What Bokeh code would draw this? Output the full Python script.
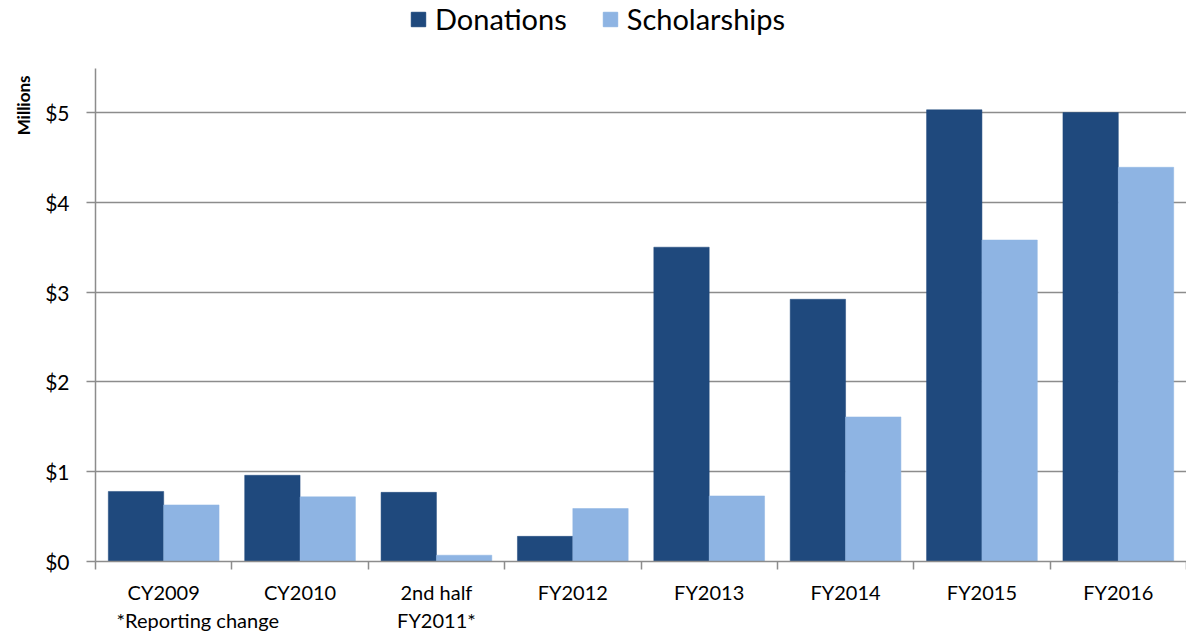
from bokeh.plotting import figure
from bokeh.models import Range1d, FixedTicker, Legend, LegendItem, Title
from bokeh.layouts import column
from bokeh.embed import file_html
from bokeh.resources import INLINE

categories = ["CY2009", "CY2010", "2nd half\nFY2011*", "FY2012", "FY2013", "FY2014", "FY2015", "FY2016"]
donations = [0.78, 0.96, 0.77, 0.28, 3.50, 2.92, 5.03, 5.00]
scholarships = [0.63, 0.72, 0.07, 0.59, 0.73, 1.61, 3.58, 4.39]
y_ticks = [0, 1, 2, 3, 4, 5]
y_labels = ["$0", "$1", "$2", "$3", "$4", "$5"]
note_text = "\n*Reporting change"
note_pos = 0.75

FONT = "Lato"
DARK = "#1F497D"
LIGHT = "#8EB4E3"
GRID = "#8C8C8C"

n = len(categories)
p = figure(width=1186, height=569, output_backend="svg", toolbar_location=None,
           x_range=Range1d(0, 8), y_range=Range1d(0, 5.49),
           min_border_left=95, min_border_right=0, min_border_bottom=76, min_border_top=0)
p.outline_line_color = None
p.background_fill_color = "white"

centers = [i + 0.5 for i in range(n)]
bw = 0.406
r1 = p.vbar(x=[c - bw / 2 for c in centers], top=donations, width=bw, bottom=0,
            fill_color=DARK, line_color=DARK, line_width=0.5)
r2 = p.vbar(x=[c + bw / 2 for c in centers], top=scholarships, width=bw, bottom=0,
            fill_color=LIGHT, line_color=LIGHT, line_width=0.5)

# x axis
xa = p.xaxis[0]
xa.ticker = FixedTicker(ticks=centers + [note_pos], minor_ticks=list(range(n + 1)))
overrides = {c: lab for c, lab in zip(centers, categories)}
overrides[note_pos] = note_text
xa.major_label_overrides = overrides
xa.major_tick_line_color = None
xa.minor_tick_line_color = GRID
xa.minor_tick_line_width = 1.5
xa.minor_tick_out = 8
xa.minor_tick_in = 0
xa.axis_line_color = GRID
xa.axis_line_width = 1.5
xa.major_label_text_font = FONT
xa.major_label_text_font_size = "20px"
xa.major_label_text_color = "black"
xa.major_label_standoff = 10

# y axis
ya = p.yaxis[0]
ya.ticker = FixedTicker(ticks=y_ticks)
ya.major_label_overrides = {t: l for t, l in zip(y_ticks, y_labels)}
ya.major_tick_line_color = GRID
ya.major_tick_line_width = 1.5
ya.major_tick_out = 9
ya.major_tick_in = 0
ya.minor_tick_line_color = None
ya.axis_line_color = GRID
ya.axis_line_width = 1.5
ya.major_label_text_font = FONT
ya.major_label_text_font_size = "21px"
ya.major_label_text_color = "black"
ya.major_label_standoff = 17

ytitle = Title(text="Millions", align="right", text_font=FONT, text_font_size="17px",
               text_font_style="bold", text_color="black", offset=7, standoff=17)
p.add_layout(ytitle, "left")

p.xgrid.grid_line_color = None
p.ygrid.ticker = FixedTicker(ticks=[1, 2, 3, 4, 5])
p.ygrid.grid_line_color = GRID
p.ygrid.grid_line_width = 1.5

# legend strip above the chart
lf = figure(width=1186, height=68, output_backend="svg", toolbar_location=None,
            x_range=Range1d(0, 1), y_range=Range1d(0, 1),
            min_border=0)
lf.axis.visible = False
lf.grid.visible = False
lf.outline_line_color = None
l1 = lf.vbar(x=[5], top=[5], bottom=[4], width=0.1, fill_color=DARK, line_color=DARK)
l2 = lf.vbar(x=[5], top=[5], bottom=[4], width=0.1, fill_color=LIGHT, line_color=LIGHT)
legend = Legend(items=[LegendItem(label="Donations", renderers=[l1]),
                       LegendItem(label="Scholarships", renderers=[l2])],
                orientation="horizontal", location=(314, 32),
                label_text_font=FONT, label_text_font_size="29px",
                label_text_color="black",
                glyph_width=18, glyph_height=18, label_standoff=8, spacing=34,
                border_line_color=None, background_fill_alpha=0,
                padding=2, margin=0)
lf.add_layout(legend)

layout = column(lf, p, spacing=0)
open("out.html", "w").write(file_html(layout, INLINE))
